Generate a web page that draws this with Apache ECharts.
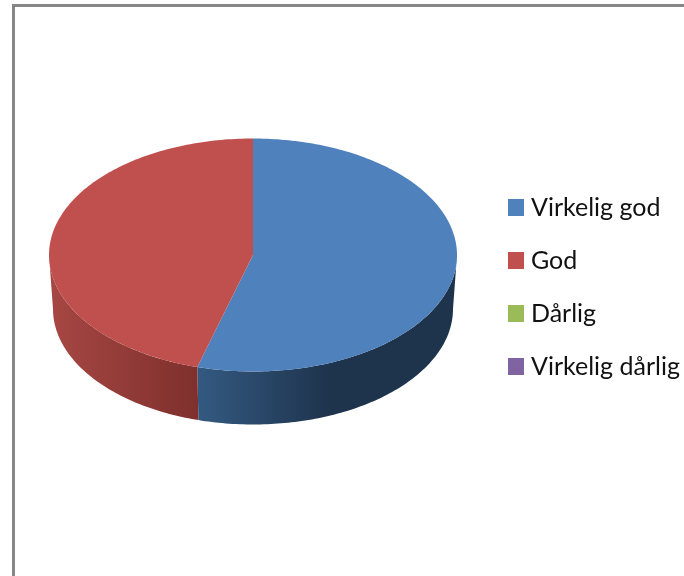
<!DOCTYPE html>
<html>
<head>
<meta charset="utf-8">
<title>Pie</title>
<style>
  html, body { margin: 0; padding: 0; background: #fff; }
  #chart { width: 684px; height: 576px; }
</style>
<script src="https://cdn.jsdelivr.net/npm/echarts@6/dist/echarts.min.js"></script>
</head>
<body>
<div id="chart"></div>
<script>
const categories = ["Virkelig god", "God", "Dårlig", "Virkelig dårlig"];
const shares = [54.4, 45.6, 0, 0];
const topColors = ["#4f81bd", "#c0504d", "#9bbb59", "#8064a2"];
const sideStops = [
  [[0, "#345a82"], [0.36, "#345a82"], [0.69, "#1e334c"], [1, "#1e334c"]],
  [[0, "#a74743"], [0.36, "#7f302d"], [1, "#7f302d"]],
  [[0, "#73893f"], [1, "#73893f"]],
  [[0, "#5e4979"], [1, "#5e4979"]],
];

const total = shares.reduce((a, b) => a + b, 0);
const topDisc = { cx: 253, cy: 255, rx: 204, ry: 116.5 };
const baseDisc = { cx: 253, cy: 309, rx: 200, ry: 115.5 };

function rimPoint(disc, deg) {
  const rad = (deg * Math.PI) / 180;
  return [disc.cx + disc.rx * Math.sin(rad), disc.cy - disc.ry * Math.cos(rad)];
}

function arc(disc, from, to) {
  const pts = [];
  const steps = Math.max(2, Math.ceil(Math.abs(to - from)));
  for (let i = 0; i <= steps; i++) pts.push(rimPoint(disc, from + ((to - from) * i) / steps));
  return pts;
}

function renderSlice(index) {
  return function (params, api) {
    const value = api.value(0);
    if (!value) return null;
    const before = shares.slice(0, index).reduce((a, b) => a + b, 0);
    const from = (before / total) * 360;
    const to = ((before + value) / total) * 360;
    const children = [];
    const sideFrom = Math.max(from, 90);
    const sideTo = Math.min(to, 270);
    if (sideTo > sideFrom) {
      children.push({
        type: "polygon",
        z2: 1,
        shape: { points: arc(topDisc, sideFrom, sideTo).concat(arc(baseDisc, sideTo, sideFrom)) },
        style: {
          fill: new echarts.graphic.LinearGradient(
            topDisc.cx - topDisc.rx, 0, topDisc.cx + topDisc.rx, 0,
            sideStops[index].map(([offset, color]) => ({ offset, color })),
            true
          ),
        },
      });
    }
    children.push({
      type: "polygon",
      z2: 2,
      shape: { points: [[topDisc.cx, topDisc.cy]].concat(arc(topDisc, from, to)) },
      style: { fill: topColors[index] },
    });
    return { type: "group", children };
  };
}

const chart = echarts.init(document.getElementById("chart"));
chart.setOption({
  backgroundColor: "#fff",
  animation: false,
  graphic: [
    {
      type: "rect",
      silent: true,
      shape: { x: 13.5, y: 5.5, width: 800, height: 700 },
      style: { fill: "none", stroke: "#868686", lineWidth: 3 },
    },
  ],
  legend: {
    orient: "vertical",
    left: 503,
    top: 190,
    icon: "rect",
    itemWidth: 16,
    itemHeight: 17,
    itemGap: 28,
    selectedMode: false,
    data: categories,
    textStyle: { color: "#111", fontFamily: "Lato", fontSize: 25, padding: [0, 0, 0, 2] },
  },
  series: categories.map((name, index) => ({
    type: "custom",
    name,
    coordinateSystem: "none",
    silent: true,
    itemStyle: { color: topColors[index] },
    renderItem: renderSlice(index),
    data: [[shares[index]]],
  })),
});
</script>
</body>
</html>
